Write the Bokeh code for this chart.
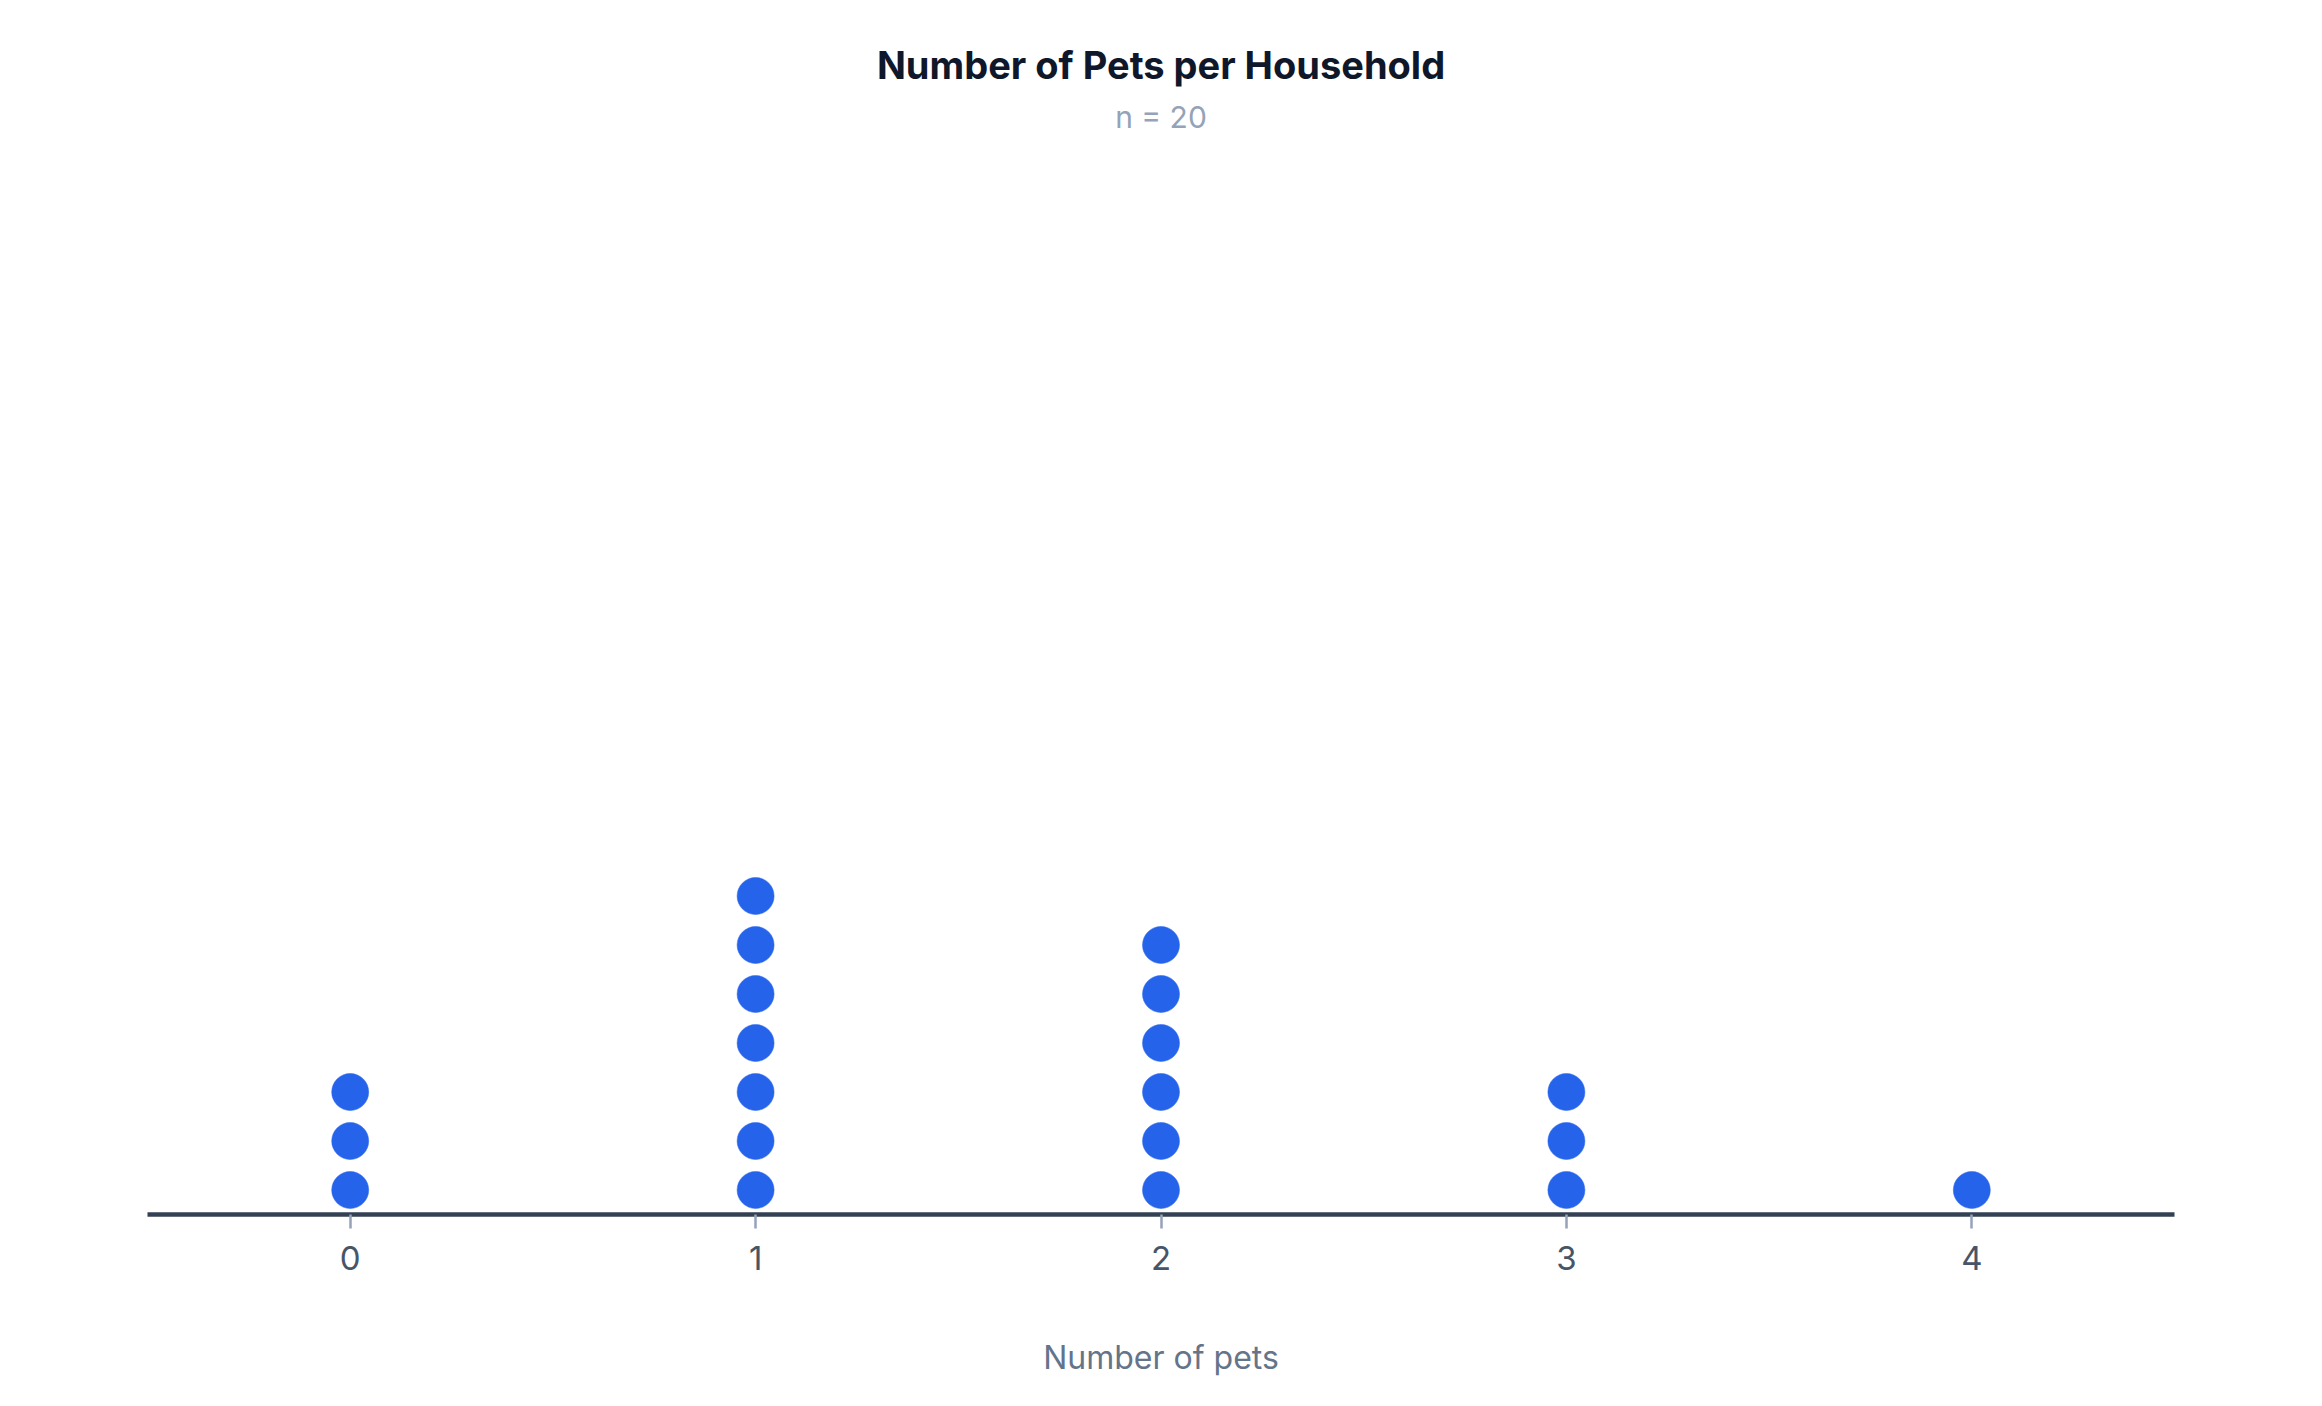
from bokeh.plotting import figure
from bokeh.models import Range1d, Title, FixedTicker, ColumnDataSource
from bokeh.embed import file_html
from bokeh.resources import INLINE

# Data
pet_counts = [0, 1, 2, 3, 4]
households = [3, 7, 6, 3, 1]
tick_labels = ["0", "1", "2", "3", "4"]
title_text = "Number of Pets per Household"
subtitle_text = "n = 20"
x_label = "Number of pets"

xs, ys = [], []
for v, c in zip(pet_counts, households):
    for k in range(c):
        xs.append(v)
        ys.append(k + 0.5)
src = ColumnDataSource(dict(x=xs, y=ys))

p = figure(width=2306, height=1390, output_backend="svg", toolbar_location=None,
           x_range=Range1d(-0.5, 4.5), y_range=Range1d(0, 22),
           min_border_left=147, min_border_right=132, min_border_bottom=176,
           min_border_top=136)

p.title.text = title_text
p.title.text_font = "Inter"
p.title.text_font_size = "38px"
p.title.text_font_style = "bold"
p.title.text_color = "#0f172a"
p.title.align = "center"
p.title.standoff = 14

sub = Title(text=subtitle_text, text_font="Inter", text_font_size="30px",
            text_font_style="normal", text_color="#94a3b8", align="center",
            standoff=4)
p.add_layout(sub, "above")

p.scatter("x", "y", source=src, size=37, fill_color="#2563eb",
          line_color="#2563eb", line_width=0.5)

p.yaxis.visible = False
p.grid.visible = False
p.outline_line_color = None

ax = p.xaxis[0]
ax.ticker = FixedTicker(ticks=pet_counts)
ax.major_label_overrides = {v: t for v, t in zip(pet_counts, tick_labels)}
ax.axis_line_color = "#334155"
ax.axis_line_width = 4.5
ax.major_tick_line_color = "#94a3b8"
ax.major_tick_line_width = 2.5
ax.major_tick_in = 0
ax.major_tick_out = 14
ax.minor_tick_line_color = None
ax.major_label_text_font = "Inter"
ax.major_label_text_font_size = "33px"
ax.major_label_text_color = "#475569"
ax.major_label_standoff = 17
ax.axis_label = x_label
ax.axis_label_text_font = "Inter"
ax.axis_label_text_font_size = "32px"
ax.axis_label_text_font_style = "normal"
ax.axis_label_text_color = "#64748b"
ax.axis_label_standoff = 65

open("out.html", "w").write(file_html(p, INLINE))
